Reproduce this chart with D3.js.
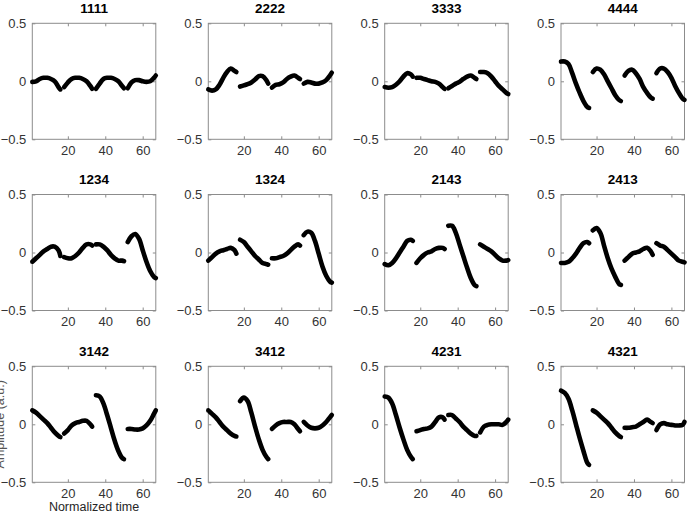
<!DOCTYPE html>
<html>
<head>
<meta charset="utf-8">
<script src="https://cdn.jsdelivr.net/npm/d3@7"></script>
<style type="text/css">
body {
  margin: 0;
  background: #fff;
  font-family: "Liberation Sans", Arial, sans-serif;
}
.axis text {
  font-size: 13px;
  fill: #333;
  font-family: "Liberation Sans", Arial, sans-serif;
}
.axis path { display: none; }
.axis line { stroke: #8c8c8c; }
.title {
  font-size: 13.5px;
  font-weight: bold;
  fill: #000;
}
.trace {
  fill: none;
  stroke: #000;
  stroke-width: 4.6px;
  stroke-linecap: round;
  stroke-linejoin: round;
}
</style>
</head>
<body>
<script>
// panel titles, in reading order
var titles = ["1111", "2222", "3333", "4444",
              "1234", "1324", "2143", "2413",
              "3142", "3412", "4231", "4321"];

// each trace has 4 segments; a segment starts at one of these samples
var segStarts = [1, 18, 35, 52];
// sample offsets read inside each segment
var sampleOffsets = [0, 2, 4, 6, 8, 10, 12, 14, 15];

var xTicks = [20, 40, 60];
var yTicks = [-0.5, 0, 0.5];

// values (one row per segment)
var t1111 = [
  [-0.005, 0.0, 0.02, 0.03, 0.03, 0.02, 0.0, -0.05, -0.07],
  [-0.05, -0.01, 0.02, 0.03, 0.03, 0.02, 0.0, -0.04, -0.065],
  [-0.065, -0.02, 0.02, 0.03, 0.03, 0.02, 0.0, -0.04, -0.06],
  [-0.06, -0.01, 0.01, 0.01, 0.0, -0.005, 0.0, 0.03, 0.05]];
var t2222 = [
  [-0.07, -0.08, -0.07, -0.03, 0.03, 0.08, 0.11, 0.09, 0.08],
  [-0.045, -0.035, -0.025, -0.01, 0.015, 0.045, 0.045, 0.01, -0.02],
  [-0.055, -0.03, -0.025, -0.01, 0.02, 0.04, 0.05, 0.03, 0.02],
  [-0.02, -0.005, -0.01, -0.02, -0.02, -0.01, 0.01, 0.05, 0.075]];
var t3333 = [
  [-0.05, -0.055, -0.05, -0.03, 0.0, 0.04, 0.07, 0.06, 0.04],
  [0.03, 0.03, 0.02, 0.01, 0.0, -0.005, -0.02, -0.05, -0.065],
  [-0.06, -0.04, -0.02, -0.005, 0.02, 0.04, 0.05, 0.03, 0.02],
  [0.08, 0.08, 0.07, 0.04, 0.0, -0.04, -0.07, -0.1, -0.11]];
var t4444 = [
  [0.17, 0.17, 0.15, 0.07, -0.02, -0.1, -0.17, -0.22, -0.23],
  [0.08, 0.11, 0.1, 0.06, 0.0, -0.06, -0.12, -0.16, -0.17],
  [0.05, 0.09, 0.1, 0.07, 0.02, -0.05, -0.1, -0.14, -0.15],
  [0.07, 0.11, 0.11, 0.08, 0.03, -0.04, -0.1, -0.15, -0.16]];
var t1234 = [
  [-0.08, -0.05, -0.02, 0.01, 0.03, 0.05, 0.05, 0.02, -0.03],
  [-0.04, -0.05, -0.05, -0.03, 0.0, 0.04, 0.07, 0.07, 0.06],
  [0.07, 0.07, 0.05, 0.02, -0.02, -0.05, -0.07, -0.07, -0.075],
  [0.09, 0.14, 0.16, 0.12, 0.02, -0.08, -0.16, -0.21, -0.22]];
var t1324 = [
  [-0.07, -0.04, -0.01, 0.01, 0.02, 0.03, 0.04, 0.02, -0.01],
  [0.11, 0.09, 0.05, 0.01, -0.03, -0.06, -0.09, -0.1, -0.105],
  [-0.05, -0.05, -0.04, -0.03, -0.01, 0.02, 0.05, 0.07, 0.06],
  [0.15, 0.18, 0.17, 0.1, -0.01, -0.12, -0.2, -0.25, -0.26]];
var t2143 = [
  [-0.1, -0.11, -0.09, -0.05, 0.0, 0.05, 0.1, 0.11, 0.1],
  [-0.09, -0.05, -0.02, 0.0, 0.01, 0.03, 0.04, 0.04, 0.03],
  [0.23, 0.23, 0.17, 0.07, -0.03, -0.13, -0.22, -0.28, -0.29],
  [0.07, 0.05, 0.03, 0.01, -0.02, -0.05, -0.07, -0.07, -0.065]];
var t2413 = [
  [-0.09, -0.09, -0.08, -0.05, -0.01, 0.04, 0.08, 0.09, 0.08],
  [0.19, 0.21, 0.17, 0.06, -0.05, -0.14, -0.21, -0.27, -0.28],
  [-0.07, -0.04, -0.01, 0.0, 0.01, 0.03, 0.04, 0.01, -0.02],
  [0.08, 0.06, 0.05, 0.02, -0.01, -0.04, -0.07, -0.08, -0.085]];
var t3142 = [
  [0.12, 0.1, 0.07, 0.04, 0.01, -0.03, -0.07, -0.1, -0.11],
  [-0.08, -0.05, -0.01, 0.01, 0.02, 0.03, 0.03, 0.0, -0.02],
  [0.25, 0.24, 0.18, 0.08, -0.03, -0.14, -0.23, -0.29, -0.3],
  [-0.04, -0.04, -0.045, -0.045, -0.035, -0.01, 0.03, 0.09, 0.12]];
var t3412 = [
  [0.12, 0.09, 0.06, 0.02, -0.02, -0.05, -0.08, -0.1, -0.105],
  [0.2, 0.23, 0.2, 0.1, -0.02, -0.13, -0.22, -0.28, -0.3],
  [-0.04, -0.01, 0.01, 0.02, 0.02, 0.02, 0.0, -0.04, -0.06],
  [0.02, -0.01, -0.03, -0.035, -0.03, -0.01, 0.02, 0.06, 0.08]];
var t4231 = [
  [0.24, 0.23, 0.18, 0.08, -0.03, -0.13, -0.22, -0.28, -0.3],
  [-0.06, -0.05, -0.04, -0.035, -0.02, 0.02, 0.06, 0.06, 0.04],
  [0.08, 0.08, 0.05, 0.02, -0.02, -0.05, -0.08, -0.1, -0.1],
  [-0.07, -0.02, -0.005, 0.0, 0.0, 0.0, -0.005, 0.02, 0.04]];
var t4321 = [
  [0.29, 0.27, 0.22, 0.12, 0.0, -0.12, -0.23, -0.33, -0.35],
  [0.12, 0.1, 0.07, 0.04, 0.01, -0.03, -0.07, -0.1, -0.11],
  [-0.03, -0.03, -0.025, -0.02, 0.0, 0.02, 0.04, 0.02, 0.01],
  [-0.05, 0.0, 0.01, 0.0, -0.005, -0.01, -0.01, -0.005, 0.02]];

var traces = [t1111, t2222, t3333, t4444,
              t1234, t1324, t2143, t2413,
              t3142, t3412, t4231, t4321];

var W = 690, H = 516;
var colLeft = [32.3, 208.3, 384.7, 561];
var rowTop = [23.3, 194.5, 366.3];
var pw = 123.5, ph = 116;

var svg = d3.select("body").append("svg")
  .attr("width", W)
  .attr("height", H);

var x = d3.scaleLinear().domain([1, 67]).range([0, pw]);
var y = d3.scaleLinear().domain([-0.5, 0.5]).range([ph, 0]);

var line = d3.line()
  .x(function(d) { return x(d.t); })
  .y(function(d) { return y(d.v); })
  .curve(d3.curveCatmullRom);

titles.forEach(function(name, i) {
  var r = Math.floor(i / 4), c = i % 4;
  var g = svg.append("g")
    .attr("transform", "translate(" + colLeft[c] + "," + rowTop[r] + ")");

  g.append("rect")
    .attr("width", pw)
    .attr("height", ph)
    .attr("fill", "#fff");

  // ticks inside the box, MATLAB style
  g.append("g")
    .attr("class", "axis")
    .attr("transform", "translate(0," + ph + ")")
    .call(d3.axisBottom(x).tickValues(xTicks).tickSizeInner(-3).tickSizeOuter(0).tickPadding(6));
  g.append("g")
    .attr("class", "axis")
    .call(d3.axisTop(x).tickValues(xTicks).tickSizeInner(-3).tickSizeOuter(0).tickFormat(""));
  g.append("g")
    .attr("class", "axis")
    .call(d3.axisLeft(y).tickValues(yTicks).tickSizeInner(-3).tickSizeOuter(0).tickPadding(6)
      .tickFormat(function(d) { return d === 0 ? "0" : d3.format(".1f")(d); }));
  g.append("g")
    .attr("class", "axis")
    .attr("transform", "translate(" + pw + ",0)")
    .call(d3.axisRight(y).tickValues(yTicks).tickSizeInner(-3).tickSizeOuter(0).tickFormat(""));

  g.append("rect")
    .attr("width", pw)
    .attr("height", ph)
    .attr("fill", "none")
    .attr("stroke", "#8c8c8c")
    .attr("stroke-width", 1);

  traces[i].forEach(function(seg, k) {
    var pts = seg.map(function(v, j) {
      return { t: segStarts[k] + sampleOffsets[j], v: v };
    });
    g.append("path")
      .attr("class", "trace")
      .attr("d", line(pts));
  });

  g.append("text")
    .attr("class", "title")
    .attr("x", pw / 2)
    .attr("y", -10.5)
    .attr("text-anchor", "middle")
    .text(name);
});

// labels of the bottom-left panel
svg.append("text")
  .attr("x", colLeft[0] + pw / 2)
  .attr("y", rowTop[2] + ph + 29)
  .attr("text-anchor", "middle")
  .style("font-size", "12.5px")
  .style("fill", "#262626")
  .text("Normalized time");

// y label sits mostly outside the left edge, as in the original figure
svg.append("text")
  .attr("transform", "translate(4," + (rowTop[2] + ph / 2) + ") rotate(-90)")
  .attr("text-anchor", "middle")
  .style("font-size", "12.5px")
  .style("fill", "#555")
  .text("Amplitude (a.u.)");
</script>
</body>
</html>
